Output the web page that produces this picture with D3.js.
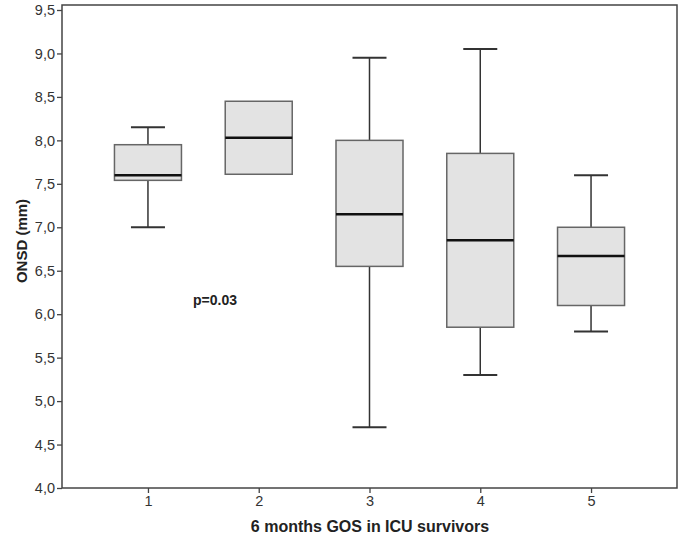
<!DOCTYPE html>
<html><head><meta charset="utf-8">
<script src="https://cdn.jsdelivr.net/npm/d3@7"></script>
<style>body{margin:0;background:#fff;} svg{display:block;}</style>
</head><body>
<svg id="chart" width="685" height="548"></svg>
<script>
const categories = ["1","2","3","4","5"];
const whiskerLow  = [7.0, null, 4.7, 5.3, 5.8];
const q1          = [7.54, 7.61, 6.55, 5.85, 6.1];
const medians     = [7.6, 8.03, 7.15, 6.85, 6.67];
const q3          = [7.95, 8.45, 8.0, 7.85, 7.0];
const whiskerHigh = [8.15, null, 8.95, 9.05, 7.6];
const yTicks = [4.0,4.5,5.0,5.5,6.0,6.5,7.0,7.5,8.0,8.5,9.0,9.5];

const svg = d3.select("#chart");
const L = 62, R = 677, T = 5, B = 488;
const x = d3.scalePoint().domain(categories).range([L, R]).padding(0.776);
const y = d3.scaleLinear().domain([4.0, 9.5]).range([B, 10]);
const boxW = 67, capW = 34;
const fmt = v => d3.format(".1f")(v).replace(".", ",");
const FONT = "Liberation Sans, Arial, sans-serif";

// frame
svg.append("rect").attr("x", L).attr("y", T).attr("width", R - L).attr("height", B - T)
  .attr("fill", "none").attr("stroke", "#444").attr("stroke-width", 1.5);

// y axis
const yAxis = svg.append("g").attr("transform", `translate(${L},0)`)
  .call(d3.axisLeft(y).tickValues(yTicks).tickFormat(fmt).tickSize(5).tickPadding(2));
yAxis.select(".domain").remove();
yAxis.selectAll("line").attr("stroke", "#444").attr("stroke-width", 1.3);
yAxis.selectAll("text").attr("font-family", FONT).attr("font-size", 14.5).attr("fill", "#333");

// x axis
const xAxis = svg.append("g").attr("transform", `translate(0,${B})`)
  .call(d3.axisBottom(x).tickSize(5).tickPadding(3));
xAxis.select(".domain").remove();
xAxis.selectAll("line").attr("stroke", "#444").attr("stroke-width", 1.3);
xAxis.selectAll("text").attr("font-family", FONT).attr("font-size", 14.5).attr("fill", "#333");

// boxes
const data = categories.map((c, i) => ({c, lo: whiskerLow[i], q1: q1[i], med: medians[i], q3: q3[i], hi: whiskerHigh[i]}));
const g = svg.append("g");
data.forEach(d => {
  const cx = x(d.c);
  if (d.hi != null) {
    g.append("line").attr("x1", cx).attr("x2", cx).attr("y1", y(d.hi)).attr("y2", y(d.q3)).attr("stroke", "#333").attr("stroke-width", 1.5);
    g.append("line").attr("x1", cx - capW/2).attr("x2", cx + capW/2).attr("y1", y(d.hi)).attr("y2", y(d.hi)).attr("stroke", "#333").attr("stroke-width", 2);
  }
  if (d.lo != null) {
    g.append("line").attr("x1", cx).attr("x2", cx).attr("y1", y(d.q1)).attr("y2", y(d.lo)).attr("stroke", "#333").attr("stroke-width", 1.5);
    g.append("line").attr("x1", cx - capW/2).attr("x2", cx + capW/2).attr("y1", y(d.lo)).attr("y2", y(d.lo)).attr("stroke", "#333").attr("stroke-width", 2);
  }
  g.append("rect").attr("x", cx - boxW/2).attr("y", y(d.q3)).attr("width", boxW).attr("height", y(d.q1) - y(d.q3))
    .attr("fill", "#e3e3e3").attr("stroke", "#666").attr("stroke-width", 1.5);
  g.append("line").attr("x1", cx - boxW/2).attr("x2", cx + boxW/2).attr("y1", y(d.med)).attr("y2", y(d.med)).attr("stroke", "#111").attr("stroke-width", 2.5);
});

// annotations
svg.append("text").attr("x", 193).attr("y", 305).text("p=0.03")
  .attr("font-family", FONT).attr("font-size", 14).attr("font-weight", "bold").attr("fill", "#222");

svg.append("text").attr("x", 370).attr("y", 532).attr("text-anchor", "middle").text("6 months GOS in ICU survivors")
  .attr("font-family", FONT).attr("font-size", 16).attr("font-weight", "bold").attr("fill", "#222");

svg.append("text").attr("transform", `translate(27,241) rotate(-90)`).attr("text-anchor", "middle").text("ONSD (mm)")
  .attr("font-family", FONT).attr("font-size", 15).attr("font-weight", "bold").attr("fill", "#222");
</script>
</body></html>
